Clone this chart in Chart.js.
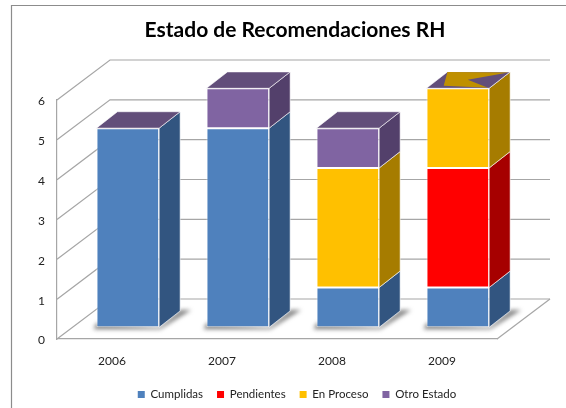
<!DOCTYPE html>
<html><head><meta charset="utf-8">
<style>html,body{margin:0;padding:0;background:#fff}#w{width:566px;height:408px}</style>
<script src="https://cdn.jsdelivr.net/npm/chart.js@4"></script>
</head><body><div id="w"><canvas id="c" width="566" height="408"></canvas></div>
<script>
const categories = ['2006','2007','2008','2009'];
const cumplidas  = [5,5,1,1];
const pendientes = [0,0,0,3];
const enProceso  = [0,0,3,2];
const otroEstado = [0,1,1,0];
const seriesNames = ['Cumplidas','Pendientes','En Proceso','Otro Estado'];
const frontColors = ['#4f81bd','#ff0000','#ffc000','#8064a2'];
const sideColors  = ['#325580','#a60000','#a67c00','#53406b'];
const topColor = '#624e7a';
const patchColor = '#bf9000';
const patchIndex = 3;
const patchShape = [[0,1],[.98,.97],[.486,.515],[.97,.03],[.225,.15]];
const wall = {dx:53, dy:40};
const shift = {dx:15.8, dy:11.7};
const depth = {dx:21, dy:16.4};
const lineColor = '#a6a6a6';
const edge = 'rgba(255,255,255,.6)';

function poly(ctx, pts){ctx.beginPath();pts.forEach((p,i)=>i?ctx.lineTo(p[0],p[1]):ctx.moveTo(p[0],p[1]));ctx.closePath();}

const scene = {
  id:'scene',
  afterLayout(chart){
    const t=chart.titleBlock, l=chart.legend;
    t.left=24; t.right=566;
    const h=l.height; l.top=392.5-h/2; l.bottom=l.top+h; l.left=28; l.right=566;
  },
  beforeDraw(chart){
    const c=chart.ctx; c.save();
    c.strokeStyle='#8c8c8c';c.lineWidth=1.2;
    c.beginPath();c.moveTo(566,5.5);c.lineTo(11.5,5.5);c.lineTo(11.5,408);c.stroke();
    c.restore();
  },
  beforeDatasetsDraw(chart){
    const c=chart.ctx, y=chart.scales.y, a=chart.chartArea;
    c.save();
    c.strokeStyle=lineColor;c.lineWidth=1.2;
    y.ticks.forEach(t=>{
      const py=y.getPixelForValue(t.value);
      c.beginPath();c.moveTo(a.left,py);c.lineTo(a.left+wall.dx,py-wall.dy);c.lineTo(a.right+wall.dx,py-wall.dy);
      c.stroke();
    });
    const b=y.getPixelForValue(0);
    c.beginPath();c.moveTo(a.right+wall.dx,b-wall.dy);c.lineTo(a.right,b);c.stroke();
    const metas=chart.getSortedVisibleDatasetMetas();
    const n=categories.length;
    // floor shadows
    for(let i=0;i<n;i++){
      const e=metas[0].data[i], L=e.x-e.width/2+shift.dx, R=e.x+e.width/2+shift.dx, B=e.base-shift.dy;
      c.save();c.filter='blur(2px)';c.fillStyle='rgba(80,80,80,.7)';
      poly(c,[[L-3,B+2],[R+1,B+2],[R+depth.dx+11,B-depth.dy-1],[R+depth.dx,B-depth.dy-1],[R,B],[L,B-4]]);
      c.fill();c.restore();
    }
    // side faces and tops
    for(let i=0;i<n;i++){
      metas.forEach((m,k)=>{
        const e=m.data[i];
        if(Math.abs(e.base-e.y)<.5) return;
        const R=e.x+e.width/2+shift.dx, T=e.y-shift.dy, B=e.base-shift.dy;
        poly(c,[[R,T],[R+depth.dx,T-depth.dy],[R+depth.dx,B-depth.dy],[R,B]]);
        c.fillStyle=sideColors[k];c.fill();
        c.strokeStyle=edge;c.lineWidth=1;c.stroke();
      });
      const e=metas[metas.length-1].data[i];
      const L=e.x-e.width/2+shift.dx, W=e.width, T=e.y-shift.dy;
      const pt=(u,v)=>[L+u*W+v*depth.dx,T-v*depth.dy];
      poly(c,[pt(0,0),pt(1,0),pt(1,1),pt(0,1)]);
      c.fillStyle=topColor;c.fill();
      c.strokeStyle=edge;c.lineWidth=1;c.stroke();
      if(i===patchIndex){
        poly(c,patchShape.map(p=>pt(p[0],p[1])));
        c.fillStyle=patchColor;c.fill();
      }
    }
    c.restore();
  },
  beforeDatasetDraw(chart){chart.ctx.save();chart.ctx.translate(shift.dx,-shift.dy);},
  afterDatasetDraw(chart){chart.ctx.restore();}
};

const seriesValues=[cumplidas,pendientes,enProceso,otroEstado];
new Chart(document.getElementById('c'),{
  type:'bar',
  data:{labels:categories,datasets:seriesValues.map((d,i)=>({
    label:seriesNames[i],data:d,backgroundColor:frontColors[i],
    borderColor:edge,borderWidth:1,borderSkipped:false,clip:false,
    categoryPercentage:.57,barPercentage:1,stack:'s'
  }))},
  options:{
    responsive:false,animation:false,
    layout:{padding:{left:0,right:69,top:0,bottom:0}},
    plugins:{
      title:{display:true,text:'Estado de Recomendaciones RH',color:'#000',
        font:{family:'Lato',size:21,weight:'bold'},padding:{top:17.4,bottom:57.4}},
      legend:{position:'bottom',labels:{boxWidth:7,boxHeight:7,padding:14,color:'#222',font:{family:'Lato',size:11.5},
        generateLabels:ch=>ch.data.datasets.map((d,i)=>({text:d.label,fillStyle:frontColors[i],strokeStyle:frontColors[i],lineWidth:0,datasetIndex:i,fontColor:'#222'}))}},
      tooltip:{enabled:false}
    },
    scales:{
      x:{stacked:true,grid:{display:false},border:{display:true,color:lineColor,width:1.2},
        ticks:{color:'#222',padding:7,font:{family:'Lato',size:12}},
        afterFit(s){s.height=69-s.chart.legend.height;}},
      y:{stacked:true,min:0,max:6,grid:{display:false,drawTicks:false},border:{display:true,color:lineColor,width:1.2},
        ticks:{stepSize:1,color:'#222',padding:12,labelOffset:1.5,font:{family:'Lato',size:12}},
        afterFit(s){s.width=57;}}
    }
  },
  plugins:[scene]
});
</script></body></html>
